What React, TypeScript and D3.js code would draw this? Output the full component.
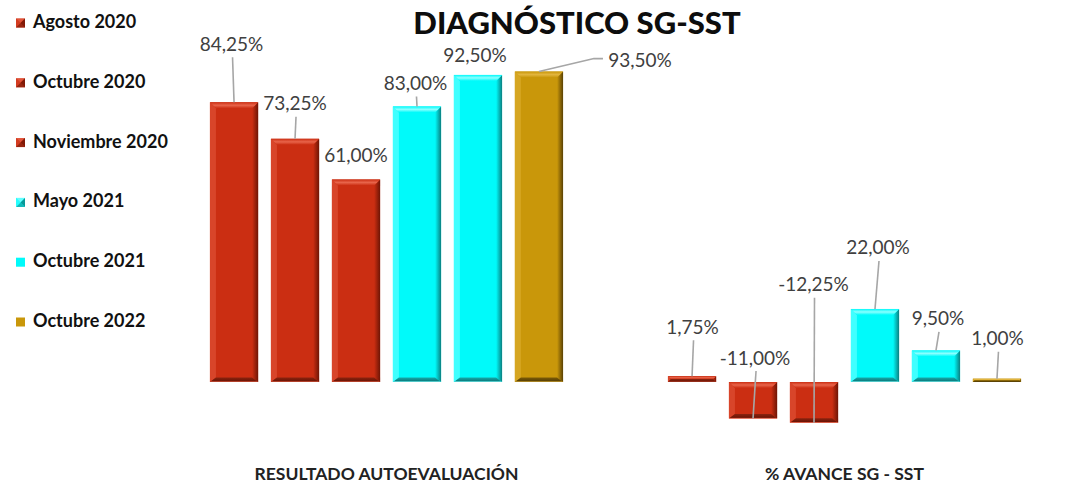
import React from "react";
import * as d3 from "d3";

// ---------- DATA ----------
const categories = ["RESULTADO AUTOEVALUACIÓN", "% AVANCE SG - SST"];
const seriesNames = [
  "Agosto 2020",
  "Octubre 2020",
  "Noviembre 2020",
  "Mayo 2021",
  "Octubre 2021",
  "Octubre 2022",
];
const resultadoValues = [84.25, 73.25, 61.0, 83.0, 92.5, 93.5];
const avanceValues = [1.75, -11.0, -12.25, 22.0, 9.5, 1.0];
const chartTitle = "DIAGNÓSTICO SG-SST";

// ---------- STYLE / LAYOUT ----------
const W = 1078;
const H = 495;
const FONT = "Lato, 'Open Sans', 'DejaVu Sans', sans-serif";

type Pal = { body: string; light: string; side: string; dark: string; bottom: string };
const palettes: Record<string, Pal> = {
  red: { body: "#CB2E12", light: "#E8644A", side: "#D8452A", dark: "#6E1505", bottom: "#8A2410" },
  cyan: { body: "#00FAFA", light: "#8CFFFF", side: "#40FFFF", dark: "#0A7F80", bottom: "#18A9AA" },
  gold: { body: "#C9970A", light: "#E2B53E", side: "#D6A622", dark: "#5A4104", bottom: "#7C5C08" },
};
const seriesPalette = ["red", "red", "red", "cyan", "cyan", "gold"];

// label offsets (px) from the data point (bar centre, value end) to label centre
const labelOffsets = [
  [
    [-2.5, -59],
    [0, -36],
    [0, -25],
    [-1.5, -24],
    [-3, -20],
    [101, -12],
  ],
  [
    [0.5, -50],
    [2, -61.5],
    [-0.5, -139],
    [3, -62],
    [2, -32.5],
    [0.5, -41],
  ],
];
const showLeader = [
  [true, true, false, true, false, true],
  [true, true, true, true, true, true],
];

const fmt = (v: number) => d3.format(".2f")(v).replace(".", ",").replace("\u2212", "-") + "%";

function BevelBar({ x, y, w, h, pal, id }: { x: number; y: number; w: number; h: number; pal: Pal; id: string }) {
  const b = Math.min(6, h / 2, w / 2);
  const bb = Math.min(4.5, h / 2);
  const pts = (arr: number[][]) => arr.map((p) => p.join(",")).join(" ");
  return (
    <g>
      <defs>
        <linearGradient id={`top-${id}`} x1="0" y1="0" x2="0" y2="1">
          <stop offset="0" stopColor={pal.body} />
          <stop offset="0.5" stopColor={pal.light} />
          <stop offset="1" stopColor={pal.body} />
        </linearGradient>
        <linearGradient id={`right-${id}`} x1="0" y1="0" x2="1" y2="0">
          <stop offset="0" stopColor={pal.body} />
          <stop offset="1" stopColor={pal.dark} />
        </linearGradient>
        <linearGradient id={`bot-${id}`} x1="0" y1="0" x2="0" y2="1">
          <stop offset="0" stopColor={pal.bottom} />
          <stop offset="0.75" stopColor={pal.dark} />
          <stop offset="1" stopColor={pal.light} />
        </linearGradient>
      </defs>
      <rect x={x} y={y} width={w} height={h} fill={pal.body} />
      <polygon points={pts([[x, y], [x + b, y + b], [x + b, y + h - bb], [x, y + h]])} fill={pal.side} />
      <polygon points={pts([[x + w, y], [x + w, y + h], [x + w - b, y + h - bb], [x + w - b, y + b]])} fill={`url(#right-${id})`} />
      <polygon points={pts([[x, y], [x + w, y], [x + w - b, y + b], [x + b, y + b]])} fill={`url(#top-${id})`} />
      <polygon points={pts([[x, y + h], [x + w, y + h], [x + w - b, y + h - bb], [x + b, y + h - bb]])} fill={`url(#bot-${id})`} />
    </g>
  );
}

function LegendMarker({ x, y, pal, flat }: { x: number; y: number; pal: Pal; flat: boolean }) {
  const s = 9;
  if (flat) return <rect x={x} y={y} width={s} height={s} fill={pal.body} />;
  const c = [x + s / 2, y + s / 2];
  const pts = (arr: number[][]) => arr.map((p) => p.join(",")).join(" ");
  return (
    <g>
      <rect x={x} y={y} width={s} height={s} fill={pal.body} />
      <polygon points={pts([[x, y], [x + s, y], c])} fill={pal.light} opacity={0.7} />
      <polygon points={pts([[x + s, y], [x + s, y + s], c])} fill={pal.dark} opacity={0.8} />
      <polygon points={pts([[x, y + s], [x + s, y + s], c])} fill={pal.bottom} opacity={0.8} />
      <polygon points={pts([[x, y], [x, y + s], c])} fill={pal.side} opacity={0.6} />
    </g>
  );
}

export default function App() {
  const x0 = d3.scaleBand<string>().domain(categories).range([157.5, 1073.5]).paddingInner(0).paddingOuter(0);
  const x1 = d3
    .scaleBand<string>()
    .domain(seriesNames)
    .range([0, x0.bandwidth()])
    .paddingInner(0.21)
    .paddingOuter(0.86);
  const y = d3.scaleLinear().domain([-15, 100]).range([431.8, 50]);

  const groups = [resultadoValues, avanceValues];

  return (
    <svg
      width={W}
      height={H}
      viewBox={`0 0 ${W} ${H}`}
      style={{ position: "absolute", left: 0, top: 0, background: "#fff" }}
    >
      <rect x={0} y={0} width={W} height={H} fill="#fff" />
      {/* title */}
      <text x={577} y={34} textAnchor="middle" fontFamily={FONT} fontWeight={900} fontSize={31} fill="#0d0d0d">
        {chartTitle}
      </text>

      {/* legend */}
      {seriesNames.map((name, i) => {
        const base = 28 + i * 59.8;
        return (
          <g key={name}>
            <LegendMarker x={16} y={base - 9.5} pal={palettes[seriesPalette[i]]} flat={i >= 4} />
            <text x={33} y={base} fontFamily={FONT} fontWeight={700} fontSize={18} fill="#111">
              {name}
            </text>
          </g>
        );
      })}

      {/* bars */}
      {categories.map((cat, ci) =>
        groups[ci].map((v, si) => {
          const bx = (x0(cat) as number) + (x1(seriesNames[si]) as number);
          const bw = x1.bandwidth();
          const y0 = y(0);
          const yv = y(v);
          const top = Math.min(y0, yv);
          const h = Math.abs(yv - y0);
          return (
            <BevelBar
              key={`${ci}-${si}`}
              x={bx}
              y={top}
              w={bw}
              h={h}
              pal={palettes[seriesPalette[si]]}
              id={`b${ci}-${si}`}
            />
          );
        })
      )}

      {/* leader lines and labels */}
      {categories.map((cat, ci) =>
        groups[ci].map((v, si) => {
          const cx = (x0(cat) as number) + (x1(seriesNames[si]) as number) + x1.bandwidth() / 2;
          const py = y(v);
          const [dx, dy] = labelOffsets[ci][si];
          const lx = cx + dx;
          const ly = py + dy;
          let line: string | null = null;
          if (showLeader[ci][si]) {
            if (Math.abs(dx) > 40) {
              line = `M${lx - 37},${ly - 1} L${lx - 46},${ly - 1} L${cx},${py}`;
            } else {
              line = `M${lx + 1},${ly + 14} L${cx},${py}`;
            }
          }
          return (
            <g key={`l${ci}-${si}`}>
              {line && <path d={line} fill="none" stroke="#A6A6A6" strokeWidth={1.6} />}
              <text
                x={lx}
                y={ly}
                textAnchor="middle"
                dominantBaseline="central"
                fontFamily={FONT}
                fontSize={19}
                fill="#404040"
              >
                {fmt(v)}
              </text>
            </g>
          );
        })
      )}

      {/* category labels */}
      {categories.map((cat) => (
        <text
          key={cat}
          x={(x0(cat) as number) + x0.bandwidth() / 2}
          y={480}
          textAnchor="middle"
          fontFamily={FONT}
          fontWeight={700}
          fontSize={17.5}
          fill="#222"
        >
          {cat}
        </text>
      ))}
    </svg>
  );
}
